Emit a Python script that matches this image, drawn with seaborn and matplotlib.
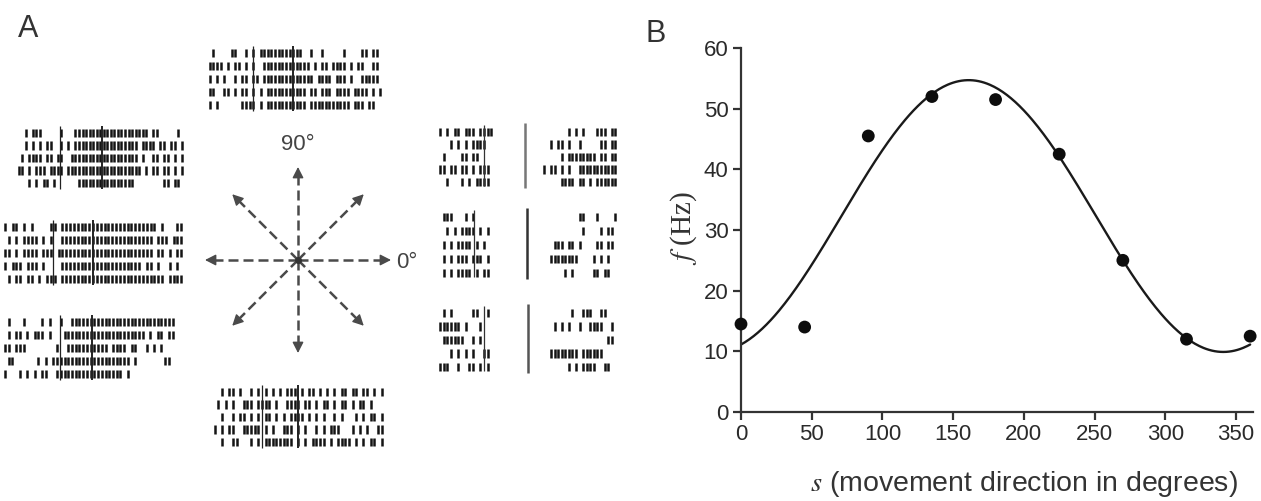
import numpy as np
import pandas as pd
import matplotlib
matplotlib.use("Agg")
import matplotlib.pyplot as plt
import seaborn as sns

# ---------------- Panel B data ----------------
directions = [0, 45, 90, 135, 180, 225, 270, 315, 360]
rates = [14.5, 14.0, 45.5, 52.0, 51.5, 42.5, 25.0, 12.0, 12.5]
# cosine tuning-curve fit parameters
fit_r0 = 32.3
fit_rmax = 54.7
fit_smax = 161.0
x_ticks = [0, 50, 100, 150, 200, 250, 300, 350]
y_ticks = [0, 10, 20, 30, 40, 50, 60]

# ---------------- Panel A data ----------------
arrow_angles = [0, 45, 90, 135, 180, 225, 270, 315]
angle_labels = {0: "0°", 90: "90°"}

raster_90 = [
    ".|....||..|.|.||||||||||||..|..|.....|....||.||.",
    "||||.|.||.|.|..|||||||||||||.|.||.||||.|.||..||.",
    "|.|.|..|.||.||.||||||||||||||.||||.|||.|..|||||.",
    "||..||.|.||.|.|.|||||||||||.||.|||.||||.||||.|.|",
    "|.|......||||.|.|||||||||||.|||||||||||.|||.||..",
]
raster_135 = [
    "..|.|||.....|...|||||||||||||||||||||.||.....|..",
    "..|.|.|.||..|.|.||||||||||||||||||.||||.||.||.|.",
    ".|.||||.||.||..|||||||||||||||||||.|..||.||.|.|.",
    "||.|.|||.||||.|||||||||||||||||||||.|.||.||.|.|.",
    "...|.|.||.|......||||||||||||||||........||.||..",
]
raster_180 = [
    "|.||.|.|....||.|||||||||||||||||||||||||.|...||.",
    ".|.|.||||.|.|..||||||||||||||||||||||||.|||.|||.",
    "||.|.||||.|||.|||||||||||||||||||||||||.||.|.||.",
    "|.|||.|||.|....|||||||||||||||||||||.||.|..|.|..",
    ".|.||.||.|.|||.|||||||||||||||||||||||||||.||||.",
]
raster_225 = [
    ".|...|....|.|..|..||||||||||||||||||||||||||||..",
    ".|.||.|.|||.|...||||||||||||||||||||||.|.||.||..",
    "||.|||........|..|||||||||||.||||.||..|.|.|.....",
    ".||......|.|.|||||||||||||||||||||.|.......||...",
    "|...|.|.|.||..||||||||||||||||||.|..............",
]
raster_270 = [
    "..|.||.|..|.|.|.|.|.|||.|.||.|.|.|.||.||.||.|.|.",
    ".|.|.|..|||.||||.|..||||.||.|.||.|.||.|.||.|....",
    "..|..|.||.|.|.||.|.|.||||.|.|.|..|.|...|.|.||.|.",
    "|.|.||..|||||.|.|..|||.|.|..|.|.|||...|.|.|..||.",
    "..|..||...|.|.||||||||.|.|.||||.|.||||.|.|.||.|.",
]
# right-hand rasters, split at the divider: (left part, right part)
raster_r1_left = ["|.|.||.|||.||||", "...|.|.|.||||..", ".|....||.||....",
                  "||.||.||.|.|||.", "..|...|.|.||||."]
raster_r1_right = [".......|.|.|...|||.||", "..|.||.|..|.....||.||",
                   ".....|.||||||||.||.||", "|.||.|.|..|||||||||||",
                   ".....||||.||.|.||||||"]
raster_r2_left = [".|||...|.|.....", "..|.|.||||.|.|.", ".|.|.||||.|.|..",
                  ".|.|.|||.|||.|.", ".|.|.||||.|.||."]
raster_r2_right = ["..........||...|....|", "...........|....|.||.",
                   "...|||.||.|....||.||.", "..||||||||....|.|.|..",
                   "......|.|.....||.||.."]
raster_r3_left = [".|.|.....||..|.", "||||||.|...|...", ".||||||..|.|...",
                  "...|.|.|.|..||.", "|||..|..||.|.|."]
raster_r3_right = ["........|..|||..||...", "...|.|.|..|..||||..|.",
                   "..................||.", "..||||||||.||||||....",
                   ".......|.|.||||..||.."]

# ---------------- figure ----------------
sns.set_theme(style="white")
plt.rcParams["font.family"] = ["Liberation Sans", "DejaVu Sans"]
plt.rcParams["mathtext.fontset"] = "stix"

W, H = 1261, 501
fig = plt.figure(figsize=(W / 100, H / 100), dpi=100)
fig.patch.set_facecolor("white")

# ---- Panel A: drawn in pixel coordinates ----
axA = fig.add_axes([0, 0, 640 / W, 1])
axA.set_xlim(0, 640)
axA.set_ylim(H, 0)
axA.axis("off")

spike_color = "#141414"


def draw_raster(ax, rows, x0, x1, y0, dy, nbins, tick_h=8.5, lw=1.8):
    w = (x1 - x0) / nbins
    for r, row in enumerate(rows):
        row = row.ljust(nbins, ".")[:nbins]
        xs = [x0 + (i + 0.5) * w for i, c in enumerate(row) if c == "|"]
        y = y0 + r * dy
        ax.vlines(xs, y - tick_h / 2, y + tick_h / 2, color=spike_color, lw=lw)


def draw_marks(ax, xs, y0, dy, nrows=5, lws=(0.9, 1.4), color="#222"):
    for x, lw in zip(xs, lws):
        ax.vlines(x, y0 - 7, y0 + (nrows - 1) * dy + 6, color=color, lw=lw)


# layout: (rows, x0, x1, first-row y, row spacing, marker x positions)
blocks = [
    (raster_90, 208, 382, 53, 13.0, (253, 293)),
    (raster_135, 17, 187, 133, 12.5, (60, 102)),
    (raster_180, 3, 187, 227, 13.0, (53, 93)),
    (raster_225, 3, 182, 322, 13.0, (60, 92)),
    (raster_270, 213, 387, 392, 12.5, (262, 298)),
]
for rows, x0, x1, y0, dy, marks in blocks:
    draw_raster(axA, rows, x0, x1, y0, dy, 48)
    draw_marks(axA, marks, y0, dy)

right_blocks = [
    (raster_r1_left, raster_r1_right, 132, 12.5, 525, 484, "#777"),
    (raster_r2_left, raster_r2_right, 217, 14.0, 527, 474, "#333"),
    (raster_r3_left, raster_r3_right, 313, 13.5, 528, 484, "#555"),
]
for left, right, y0, dy, xdiv, xm, dcol in right_blocks:
    draw_raster(axA, left, 438, 493, y0, dy, 15)
    draw_raster(axA, right, 542, 617, y0, dy, 21)
    axA.vlines(xdiv, y0 - 9, y0 + 4 * dy + 6, color=dcol, lw=1.8)
    axA.vlines(xm, y0 - 7, y0 + 4 * dy + 4, color="#333", lw=0.9)

# direction arrows
cx, cy, R = 298, 260, 93
arrow_col = "#4a4a4a"
for a in arrow_angles:
    ca, sa = np.cos(np.radians(a)), np.sin(np.radians(a))
    ex, ey = cx + R * ca, cy - R * sa
    axA.plot([cx, ex - 6 * ca], [cy, ey + 6 * sa], color=arrow_col, lw=1.8,
             ls=(0, (4.0, 2.0)), solid_capstyle="butt")
    axA.annotate("", xy=(ex, ey), xytext=(ex - 9 * ca, ey + 9 * sa),
                 arrowprops=dict(arrowstyle="-|>,head_length=0.55,head_width=0.28",
                                 color=arrow_col, lw=1.0, shrinkA=0, shrinkB=0))
axA.plot([cx], [cy], "o", color="#333", ms=4)
axA.text(cx, cy - R - 12, angle_labels[90], ha="center", va="bottom",
         fontsize=16, color="#444")
axA.text(cx + R + 5, cy + 2, angle_labels[0], ha="left", va="center",
         fontsize=16, color="#444")

fig.text(18 / W, 1 - 37 / H, "A", fontsize=22, color="#333", ha="left", va="baseline")
fig.text(645 / W, 1 - 42 / H, "B", fontsize=22, color="#333", ha="left", va="baseline")

# ---- Panel B ----
x_lo, x_hi = 0, 362
left_px, bot_px, top_px = 741, 412, 48
right_px = left_px + (1236 - 741) / 350 * x_hi
axB = fig.add_axes([left_px / W, 1 - bot_px / H, (right_px - left_px) / W,
                    (bot_px - top_px) / H])

s_fit = np.arange(0, 361, 1)
f_fit = fit_r0 + (fit_rmax - fit_r0) * np.cos(np.radians(s_fit - fit_smax))
curve = pd.DataFrame({"s": s_fit, "f": f_fit})
points = pd.DataFrame({"s": directions, "f": rates})

sns.lineplot(data=curve, x="s", y="f", ax=axB, color="#1a1a1a", lw=1.7)
sns.scatterplot(data=points, x="s", y="f", ax=axB, color="#0d0d0d", s=85,
                edgecolor="none", clip_on=False, zorder=5)

axB.set_xlim(x_lo, x_hi)
axB.set_ylim(0, 60)
axB.set_xticks(x_ticks)
axB.set_yticks(y_ticks)
axB.set_facecolor("white")
for side in ("top", "right"):
    axB.spines[side].set_visible(False)
for side in ("left", "bottom"):
    axB.spines[side].set_color("#333")
    axB.spines[side].set_linewidth(1.6)
axB.tick_params(axis="both", direction="out", length=6, width=1.6, color="#333",
                labelsize=16, labelcolor="#2a2a2a", pad=3, left=True, bottom=True)
axB.set_xlabel(r"$s$ (movement direction in degrees)", fontsize=20.5, color="#333")
axB.set_ylabel(r"$f$ (Hz)", fontsize=21, color="#333", family="Liberation Serif")
axB.xaxis.set_label_coords((1024 - left_px) / (right_px - left_px),
                           (bot_px - 499) / (bot_px - top_px))
axB.yaxis.set_label_coords((684 - left_px) / (right_px - left_px),
                           (bot_px - 228) / (bot_px - top_px))
axB.yaxis.label.set_va("center")
axB.xaxis.label.set_va("bottom")

fig.savefig("out.png", dpi=100, facecolor="white")
